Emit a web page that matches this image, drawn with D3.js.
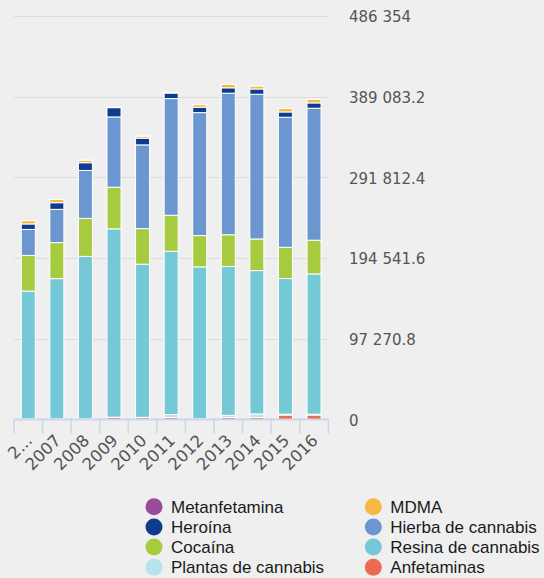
<!DOCTYPE html>
<html>
<head>
<meta charset="utf-8">
<script src="https://cdn.jsdelivr.net/npm/d3@7"></script>
<style>
  html, body { margin: 0; padding: 0; background: #efefef; }
  svg { display: block; }
</style>
</head>
<body>
<svg id="chart" width="544" height="578"></svg>
<script>
// ---- Data ----
const years = ["2006","2007","2008","2009","2010","2011","2012","2013","2014","2015","2016"];
const xLabels = ["2...","2007","2008","2009","2010","2011","2012","2013","2014","2015","2016"];
const seriesNames = ["Anfetaminas","Plantas de cannabis","Resina de cannabis","Cocaína","Hierba de cannabis","Heroína","MDMA","Metanfetamina"];
const seriesColors = ["#ec6b50","#b6e3ec","#75c8d5","#a6cb40","#6b96cf","#0f3b8f","#f5b843","#9b4a9b"];

const anfetaminas   = [300, 300, 300, 2500, 2300, 2400, 500, 2400, 2400, 5400, 5400];
const plantas       = [500, 500, 500, 300, 300, 3600, 300, 2600, 4300, 1000, 1000];
const resina        = [154000, 169000, 195800, 227000, 184600, 196800, 183200, 179500, 172800, 163500, 169100];
const cocaina       = [43000, 43400, 45800, 50200, 42900, 43400, 37700, 38200, 38100, 37700, 40600];
const hierba        = [31300, 40100, 57800, 84700, 100900, 140600, 148200, 170600, 174400, 156700, 159100];
const heroina       = [6600, 8000, 9300, 11200, 8100, 6700, 6500, 6500, 6400, 6400, 6400];
const mdma          = [4000, 4000, 3100, 500, 2400, 600, 3100, 4000, 3600, 4100, 4500];
const metanfetamina = [50, 50, 50, 50, 50, 50, 50, 50, 50, 50, 50];

const yTicks = [0, 97270.8, 194541.6, 291812.4, 389083.2, 486354];

// ---- Build table ----
const seriesValues = [anfetaminas, plantas, resina, cocaina, hierba, heroina, mdma, metanfetamina];
const table = years.map((y, i) => {
  const row = { year: y };
  seriesNames.forEach((n, k) => row[n] = seriesValues[k][i]);
  return row;
});
const stacked = d3.stack().keys(seriesNames)(table);

// ---- Layout ----
const svg = d3.select("#chart");
const plotLeft = 14, plotRight = 328.3, plotTop = 16, plotBottom = 419.5;

const x = d3.scaleBand().domain(years).range([plotLeft, plotRight]).padding(0);
const y = d3.scaleLinear().domain([0, 486354]).range([plotBottom, plotTop]);
const color = d3.scaleOrdinal().domain(seriesNames).range(seriesColors);
const barW = x.bandwidth() * 0.49;

const locale = d3.formatLocale({ decimal: ".", thousands: " ", grouping: [3], currency: ["", ""] });
const fmt = locale.format(",.1~f");

// gridlines
svg.append("g")
  .selectAll("line")
  .data(yTicks.slice(1))
  .join("line")
  .attr("x1", plotLeft).attr("x2", plotRight)
  .attr("y1", d => Math.round(y(d)) + 0.5).attr("y2", d => Math.round(y(d)) + 0.5)
  .attr("stroke", "#dcdcdc").attr("stroke-width", 1);

// y labels (right)
svg.append("g")
  .selectAll("text")
  .data(yTicks)
  .join("text")
  .attr("x", 349)
  .attr("y", d => y(d) + 1)
  .attr("dy", "0.35em")
  .attr("font-family", "DejaVu Sans, Verdana, sans-serif")
  .attr("font-size", 15)
  .attr("fill", "#555")
  .text(d => fmt(d));

// bars
svg.append("g")
  .selectAll("g")
  .data(stacked)
  .join("g")
  .attr("fill", d => color(d.key))
  .selectAll("rect")
  .data(d => d)
  .join("rect")
  .attr("x", d => x(d.data.year) + x.bandwidth() / 2 - barW / 2)
  .attr("y", d => y(d[1]))
  .attr("width", barW)
  .attr("height", d => Math.max(0, y(d[0]) - y(d[1])))
  .attr("stroke", "#ffffff")
  .attr("stroke-width", 1);

// x axis
const gx = svg.append("g").attr("transform", `translate(0,${plotBottom})`);
gx.append("line").attr("x1", plotLeft).attr("x2", plotRight).attr("y1", 0).attr("y2", 0)
  .attr("stroke", "#ccd6eb").attr("stroke-width", 2);
const boundaries = years.map(yy => x(yy)).concat([plotRight]);
gx.selectAll("line.tk")
  .data(boundaries)
  .join("line").attr("class", "tk")
  .attr("x1", d => d).attr("x2", d => d)
  .attr("y1", -1).attr("y2", 14)
  .attr("stroke", "#ccd6eb").attr("stroke-width", 1.5);
svg.append("g")
  .selectAll("text")
  .data(years)
  .join("text")
  .attr("transform", (d) => `translate(${x(d) + x.bandwidth() / 2 + 5},${plotBottom + 22}) rotate(-45)`)
  .attr("text-anchor", "end")
  .attr("font-family", "DejaVu Sans, Verdana, sans-serif")
  .attr("font-size", 16.5)
  .attr("fill", "#555")
  .text((d, i) => xLabels[i]);

// legend
const legendItems = seriesNames.slice().reverse();
const colX = [154, 373.3];
const rowY = [506.7, 526.9, 547.1, 567.3];
const lg = svg.append("g")
  .selectAll("g")
  .data(legendItems)
  .join("g")
  .attr("transform", (d, i) => `translate(${colX[i % 2]},${rowY[Math.floor(i / 2)]})`);
lg.append("circle").attr("r", 8.5).attr("fill", d => color(d));
lg.append("text")
  .attr("x", 17)
  .attr("dy", "0.35em")
  .attr("font-family", "Liberation Sans, Arial, sans-serif")
  .attr("font-size", 17)
  .attr("fill", "#1a1a1a")
  .text(d => d);
</script>
</body>
</html>
